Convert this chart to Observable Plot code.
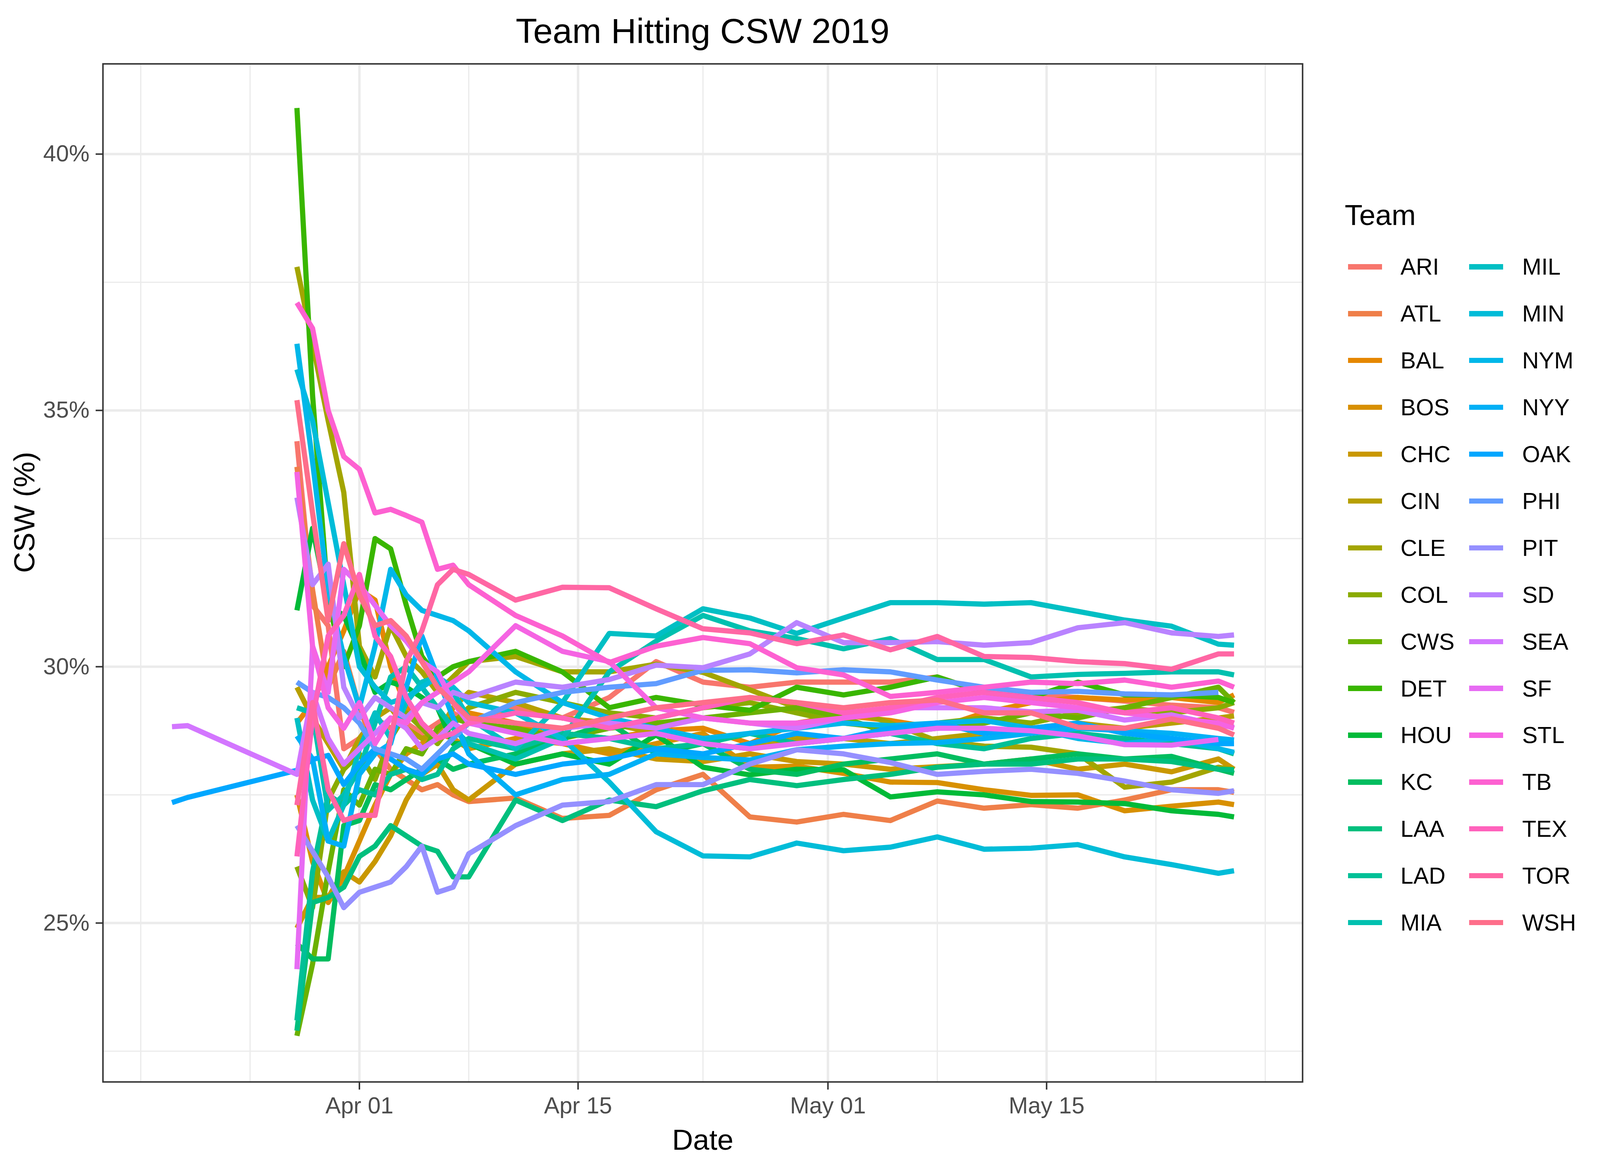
<!DOCTYPE html>
<html>
<head>
<meta charset="utf-8">
<script src="https://cdn.jsdelivr.net/npm/d3@7"></script>
<script src="https://cdn.jsdelivr.net/npm/@observablehq/plot@0.6"></script>
<style>
html, body { margin: 0; padding: 0; background: #ffffff; overflow: hidden; }
#page { position: relative; background: #ffffff; overflow: hidden;
  font-family: "Liberation Sans", Arial, Helvetica, sans-serif; }
#title, #chart, .lt, .li, .lk { position: absolute; }
#title { text-align: center; color: #000; white-space: nowrap; }
.lt, .li { color: #000; white-space: nowrap; }
</style>
</head>
<body>
<div id="page">
  <div id="title">Team Hitting CSW 2019</div>
  <div id="chart"></div>
  <div id="legend"></div>
</div>
<script>
// ---------- data ----------
const teams = ["ARI","ATL","BAL","BOS","CHC","CIN","CLE","COL","CWS","DET",
               "HOU","KC","LAA","LAD","MIA","MIL","MIN","NYM","NYY","OAK",
               "PHI","PIT","SD","SEA","SF","STL","TB","TEX","TOR","WSH"];

const dates = ["2019-03-20","2019-03-21",
  "2019-03-28","2019-03-29","2019-03-30","2019-03-31","2019-04-01","2019-04-02",
  "2019-04-03","2019-04-04","2019-04-05","2019-04-06","2019-04-07","2019-04-08",
  "2019-04-11","2019-04-14","2019-04-17","2019-04-20","2019-04-23","2019-04-26",
  "2019-04-29","2019-05-02","2019-05-05","2019-05-08","2019-05-11","2019-05-14",
  "2019-05-17","2019-05-20","2019-05-23","2019-05-26","2019-05-27"];

const yTicks = [25, 30, 35, 40];
const yMinor = [22.5, 27.5, 32.5, 37.5];
const xTicks = ["2019-04-01","2019-04-15","2019-05-01","2019-05-15"];
const xMinor = ["2019-03-18","2019-03-25","2019-04-08","2019-04-23","2019-05-08","2019-05-22","2019-05-29"];

// CSW % per team (null = no games yet / no value)
const ARI = [null,null,34.4,31.2,30.8,28.4,28.6,29.0,28.8,28.9,28.7,28.9,29.1,28.9,29.2,29.0,29.4,30.1,29.7,29.6,29.7,29.7,29.7,29.8,29.5,29.45,29.4,29.33,29.25,29.2,29.11];
const ATL = [null,null,33.9,31.5,29.6,30.3,29.2,28.4,28.0,27.8,27.6,27.7,27.5,27.37,27.44,27.04,27.1,27.6,27.9,27.07,26.97,27.12,27.0,27.38,27.24,27.31,27.24,27.4,27.6,27.6,27.55];
const BAL = [null,null,28.9,29.3,30.0,30.7,31.5,31.3,30.0,29.2,28.9,28.6,28.9,29.1,28.9,28.7,28.6,28.75,28.8,28.5,28.9,29.05,28.95,28.8,29.1,29.3,29.4,29.35,29.4,29.3,29.45];
const BOS = [null,null,27.5,26.2,25.4,25.9,26.6,27.3,27.9,28.3,28.5,28.7,28.6,28.4,28.6,28.5,28.3,28.5,28.7,28.04,28.06,27.92,27.75,27.74,27.6,27.49,27.5,27.19,27.28,27.36,27.31];
const CHC = [null,null,24.9,25.5,25.5,26.0,25.8,26.2,26.7,27.4,27.9,28.1,27.6,27.4,28.1,28.3,28.4,28.2,28.15,28.3,28.15,28.1,28.0,28.05,28.1,28.2,28.0,28.1,27.95,28.2,28.0];
const CIN = [null,null,29.6,29.0,28.5,28.0,28.6,29.0,29.2,28.8,28.6,28.7,29.2,29.5,29.3,29.0,28.9,28.7,28.5,28.4,28.6,28.6,28.5,28.6,28.7,28.8,28.9,28.8,28.9,29.0,29.04];
const CLE = [null,null,37.8,36.3,34.8,33.4,30.4,29.8,30.8,30.2,29.9,29.5,29.8,30.1,30.2,29.9,29.9,30.05,29.89,29.55,29.2,29.2,28.9,28.55,28.45,28.43,28.3,27.65,27.75,28.04,27.99];
const COL = [null,null,26.1,25.3,27.4,28.0,28.3,27.8,28.6,29.1,28.8,28.5,28.9,29.2,29.5,29.3,29.1,29.0,29.2,29.3,29.1,28.9,28.8,28.9,29.0,28.9,29.1,29.2,29.1,29.2,29.3];
const CWS = [null,null,22.8,24.2,26.0,27.6,27.3,28.0,27.9,28.4,28.3,28.8,29.0,28.9,28.8,28.6,28.8,28.9,29.0,29.1,29.2,29.0,28.7,28.8,28.9,29.1,29.0,29.2,29.4,29.6,29.3];
const DET = [null,null,40.9,35.3,31.3,30.0,30.8,32.5,32.3,31.2,30.2,29.8,30.0,30.1,30.3,29.9,29.2,29.4,29.25,29.15,29.6,29.45,29.6,29.8,29.5,29.4,29.7,29.45,29.45,29.4,29.3];
const HOU = [null,null,31.1,32.7,31.2,31.0,30.3,29.5,29.7,29.6,29.4,29.2,28.5,28.5,28.1,28.3,28.1,28.67,28.04,27.89,28.0,27.99,27.46,27.56,27.5,27.37,27.36,27.33,27.19,27.12,27.07];
const KC  = [null,null,24.6,24.3,24.3,26.9,27.0,27.7,27.6,27.8,28.0,28.2,28.0,28.1,28.3,28.6,28.9,28.3,28.5,28.0,27.9,28.1,28.2,28.3,28.1,28.2,28.3,28.2,28.25,28.0,27.92];
const LAA = [null,null,22.9,25.4,25.5,25.7,26.3,26.5,26.9,26.7,26.5,26.4,25.9,25.9,27.4,27.0,27.4,27.27,27.58,27.8,27.68,27.8,27.9,28.04,28.1,28.1,28.2,28.2,28.15,28.0,27.99];
const LAD = [null,null,23.1,26.0,27.5,27.3,27.6,27.5,27.9,28.0,27.8,27.9,28.4,28.6,28.4,28.7,28.6,28.4,28.5,28.7,28.5,28.6,28.7,28.5,28.4,28.6,28.7,28.6,28.5,28.4,28.3];
const MIA = [null,null,29.2,29.1,27.2,27.5,28.0,28.9,29.8,30.0,29.6,29.2,28.8,28.5,28.2,28.6,29.9,30.5,31.0,30.7,30.55,30.35,30.55,30.14,30.14,29.8,29.85,29.87,29.9,29.9,29.84];
const MIL = [null,null,29.0,27.4,26.6,27.3,28.4,29.1,28.6,29.3,29.7,29.8,29.5,29.0,28.4,29.3,30.65,30.6,31.13,30.95,30.65,30.95,31.25,31.25,31.22,31.25,31.08,30.91,30.79,30.44,30.42];
const MIN = [null,null,35.8,34.8,33.2,31.6,30.0,29.6,29.3,29.4,29.6,29.8,29.6,29.3,29.1,28.6,27.75,26.78,26.31,26.29,26.56,26.41,26.48,26.68,26.44,26.46,26.53,26.29,26.14,25.97,26.02];
const NYM = [null,null,36.3,34.0,31.5,30.2,29.2,30.4,31.9,31.4,31.1,31.0,30.9,30.7,29.9,29.3,29.0,28.8,28.6,28.7,28.8,28.9,28.85,28.9,28.95,28.8,28.6,28.5,28.6,28.4,28.33];
const NYY = [null,null,28.65,28.2,26.6,26.5,27.9,28.3,28.5,29.6,30.6,29.8,29.0,28.3,27.5,27.8,27.9,28.3,28.23,28.18,28.38,28.45,28.5,28.52,28.6,28.7,28.8,28.75,28.7,28.6,28.57];
const OAK = [27.35,27.45,27.98,28.19,28.27,27.7,28.1,28.4,28.2,28.0,27.9,28.2,28.3,28.1,27.9,28.1,28.2,28.4,28.3,28.5,28.7,28.6,28.8,28.9,28.7,28.8,28.9,28.7,28.6,28.5,28.5];
const PHI = [null,null,29.7,29.5,29.4,29.2,28.9,28.4,28.3,28.2,28.0,28.3,28.6,28.9,29.3,29.5,29.6,29.67,29.93,29.94,29.88,29.94,29.9,29.74,29.6,29.5,29.52,29.47,29.45,29.5,null];
const PIT = [null,null,26.9,26.4,25.9,25.3,25.6,25.7,25.8,26.1,26.5,25.6,25.7,26.35,26.9,27.3,27.37,27.7,27.7,28.1,28.38,28.3,28.13,27.9,27.96,28.0,27.92,27.77,27.6,27.53,27.58];
const SD  = [null,null,33.3,31.6,32.0,29.6,29.0,29.4,29.2,29.0,29.3,29.2,29.5,29.4,29.7,29.6,29.75,30.03,29.98,30.25,30.86,30.47,30.47,30.49,30.42,30.47,30.76,30.86,30.66,30.59,30.62];
const SEA = [28.83,28.85,27.9,29.5,28.6,28.1,28.4,28.7,29.0,28.8,28.4,28.6,28.9,28.7,28.5,28.8,28.9,28.8,29.0,28.9,28.8,29.0,29.2,29.2,29.2,29.12,29.15,28.96,29.06,28.86,28.82];
const SF  = [null,null,24.1,30.4,29.5,31.9,31.6,31.2,30.8,30.5,30.1,29.9,29.3,28.9,28.7,28.5,28.6,28.7,28.5,28.4,28.5,28.6,28.7,28.8,28.8,28.75,28.65,28.48,28.47,28.58,null];
const STL = [null,null,33.8,30.4,29.2,28.8,29.3,28.5,29.0,28.9,29.3,29.5,29.7,29.9,30.8,30.3,30.1,29.2,29.0,28.9,28.9,29.0,29.1,29.3,29.4,29.3,29.2,29.1,29.0,28.9,28.8];
const TB  = [null,null,37.1,36.6,35.0,34.1,33.85,33.0,33.07,32.95,32.82,31.9,31.98,31.6,31.0,30.6,30.08,30.4,30.57,30.45,29.98,29.84,29.42,29.5,29.6,29.7,29.67,29.74,29.6,29.72,29.6];
const TEX = [null,null,26.3,29.0,30.6,31.0,31.8,30.6,30.2,29.4,28.9,28.6,28.7,28.9,29.1,29.0,28.8,29.0,29.2,29.4,29.3,29.1,29.2,29.4,29.5,29.4,29.3,29.1,29.2,29.0,28.9];
const TOR = [null,null,27.3,29.3,27.6,27.0,27.1,27.1,28.6,30.1,30.7,31.6,31.9,31.8,31.3,31.55,31.54,31.13,30.74,30.66,30.45,30.62,30.33,30.59,30.2,30.18,30.1,30.06,29.95,30.25,30.25];
const WSH = [null,null,35.2,33.0,30.9,32.4,31.4,30.8,30.9,30.6,30.1,29.6,29.3,29.0,28.9,28.8,29.0,29.2,29.3,29.4,29.3,29.2,29.3,29.35,29.1,29.1,28.82,28.8,28.98,28.8,28.67];

const series = [ARI,ATL,BAL,BOS,CHC,CIN,CLE,COL,CWS,DET,HOU,KC,LAA,LAD,MIA,MIL,MIN,NYM,NYY,OAK,PHI,PIT,SD,SEA,SF,STL,TB,TEX,TOR,WSH];

// ---------- ggplot2 default hue palette (polar LUV, c=100, l=65) ----------
function hclHex(h, c, l) {
  const hr = h * Math.PI / 180;
  const U = c * Math.cos(hr), V = c * Math.sin(hr);
  const Y = 100 * (l > 7.999592 ? Math.pow((l + 16) / 116, 3) : l / 903.3);
  const u = U / (13 * l) + 0.1978398;
  const v = V / (13 * l) + 0.4683363;
  const X = 9.0 * Y * u / (4 * v);
  const Z = -X / 3 - 5 * Y + 3 * Y / v;
  const lin = [
    ( 3.240479 * X - 1.537150 * Y - 0.498535 * Z) / 100,
    (-0.969256 * X + 1.875992 * Y + 0.041556 * Z) / 100,
    ( 0.055648 * X - 0.204043 * Y + 1.057311 * Z) / 100
  ];
  const g = t => t <= 0.0031308 ? 12.92 * t : 1.055 * Math.pow(t, 1 / 2.4) - 0.055;
  return "#" + lin.map(t => {
    const s = Math.max(0, Math.min(1, g(t)));
    return Math.round(s * 255).toString(16).padStart(2, "0");
  }).join("");
}
const n = teams.length;
const colors = teams.map((_, i) => hclHex((15 + i * 360 / n) % 360, 100, 65));

// ---------- build rows ----------
const parse = s => new Date(s + "T00:00:00Z");
const rows = [];
teams.forEach((t, i) => {
  series[i].forEach((v, j) => rows.push({team: t, date: parse(dates[j]), value: v}));
});

// ---------- layout: 4500x3000 design fitted to the real viewport ----------
const VW = window.innerWidth || document.documentElement.clientWidth || 4500;
const VH = window.innerHeight || document.documentElement.clientHeight || 3000;
const kx = VW / 4500, ky = VH / 3000;
const fs = Math.sqrt(kx * ky);
const X = v => v * kx, Yp = v => v * ky, F = v => v * fs;

const page = document.getElementById("page");
page.style.width = VW + "px";
page.style.height = VH + "px";

const title = document.getElementById("title");
title.style.left = X(289) + "px";
title.style.width = X(3374) + "px";
title.style.fontSize = F(94) + "px";
title.style.lineHeight = F(94) + "px";
title.style.top = (Yp(111) - 0.8465 * F(94)) + "px";

const chartDiv = document.getElementById("chart");
chartDiv.style.left = "0px";
chartDiv.style.top = Yp(150) + "px";

const DAY = 864e5;
const day0 = parse("2019-03-28").getTime();
const xDomain = [new Date(day0 - 12.42 * DAY), new Date(day0 + 64.39 * DAY)];

const gridCol = "#EBEBEB";
const chart = Plot.plot({
  width: X(3740),
  height: Yp(2850),
  marginLeft: X(289),
  marginRight: X(77),
  marginTop: Yp(13),
  marginBottom: Yp(231),
  style: {fontFamily: "'Liberation Sans', Arial, sans-serif", background: "white", overflow: "visible"},
  x: {type: "utc", domain: xDomain},
  y: {domain: [21.90, 41.76]},
  color: {type: "ordinal", domain: teams, range: colors},
  marks: [
    Plot.gridX(xMinor.map(parse), {stroke: gridCol, strokeOpacity: 1, strokeWidth: F(3.3)}),
    Plot.gridY(yMinor, {stroke: gridCol, strokeOpacity: 1, strokeWidth: F(3.3)}),
    Plot.gridX(xTicks.map(parse), {stroke: gridCol, strokeOpacity: 1, strokeWidth: F(6.5)}),
    Plot.gridY(yTicks, {stroke: gridCol, strokeOpacity: 1, strokeWidth: F(6.5)}),
    Plot.line(rows, {x: "date", y: "value", z: "team", stroke: "team",
      strokeWidth: F(14), strokeLinecap: "butt", strokeLinejoin: "round"}),
    Plot.frame({stroke: "#333333", strokeWidth: F(4)}),
    Plot.axisX(xTicks.map(parse), {tickFormat: d3.utcFormat("%b %d"), tickSize: Yp(20), tickPadding: Yp(19),
      fontSize: F(62), fill: "#4D4D4D", stroke: "#333333", strokeWidth: F(4), label: null}),
    Plot.axisY(yTicks, {tickFormat: d => d + "%", tickSize: X(20), tickPadding: X(18),
      fontSize: F(62), fill: "#4D4D4D", stroke: "#333333", strokeWidth: F(4), label: null}),
    Plot.text(["Date"], {text: d => d, frameAnchor: "bottom", dy: Yp(174), lineAnchor: "bottom",
      fontSize: F(78), fill: "#000"}),
    Plot.text(["CSW (%)"], {text: d => d, frameAnchor: "left", dx: X(96) - X(289), rotate: -90,
      lineAnchor: "bottom", fontSize: F(78), fill: "#000"})
  ]
});
chartDiv.appendChild(chart);

// ---------- legend (HTML) ----------
const legend = document.getElementById("legend");
const lt = document.createElement("div");
lt.className = "lt";
lt.textContent = "Team";
lt.style.left = X(3782) + "px";
lt.style.fontSize = F(78) + "px";
lt.style.lineHeight = F(78) + "px";
lt.style.top = (Yp(577) - 0.8465 * F(78)) + "px";
legend.appendChild(lt);
const perCol = 15;
teams.forEach((t, i) => {
  const col = Math.floor(i / perCol), row = i % perCol;
  const cy = Yp(683 + row * 119.9);
  const keyX = col === 0 ? 3791 : 4132;
  const labX = col === 0 ? 3939 : 4281;
  const k = document.createElement("div");
  k.className = "lk";
  k.style.left = X(keyX) + "px";
  k.style.width = X(96) + "px";
  k.style.height = F(14) + "px";
  k.style.top = (cy - F(14) / 2) + "px";
  k.style.background = colors[i];
  legend.appendChild(k);
  const lab = document.createElement("div");
  lab.className = "li";
  lab.textContent = t;
  lab.style.left = X(labX) + "px";
  lab.style.fontSize = F(62) + "px";
  lab.style.lineHeight = F(62) + "px";
  lab.style.top = (cy - F(62) / 2) + "px";
  legend.appendChild(lab);
});
</script>
</body>
</html>
